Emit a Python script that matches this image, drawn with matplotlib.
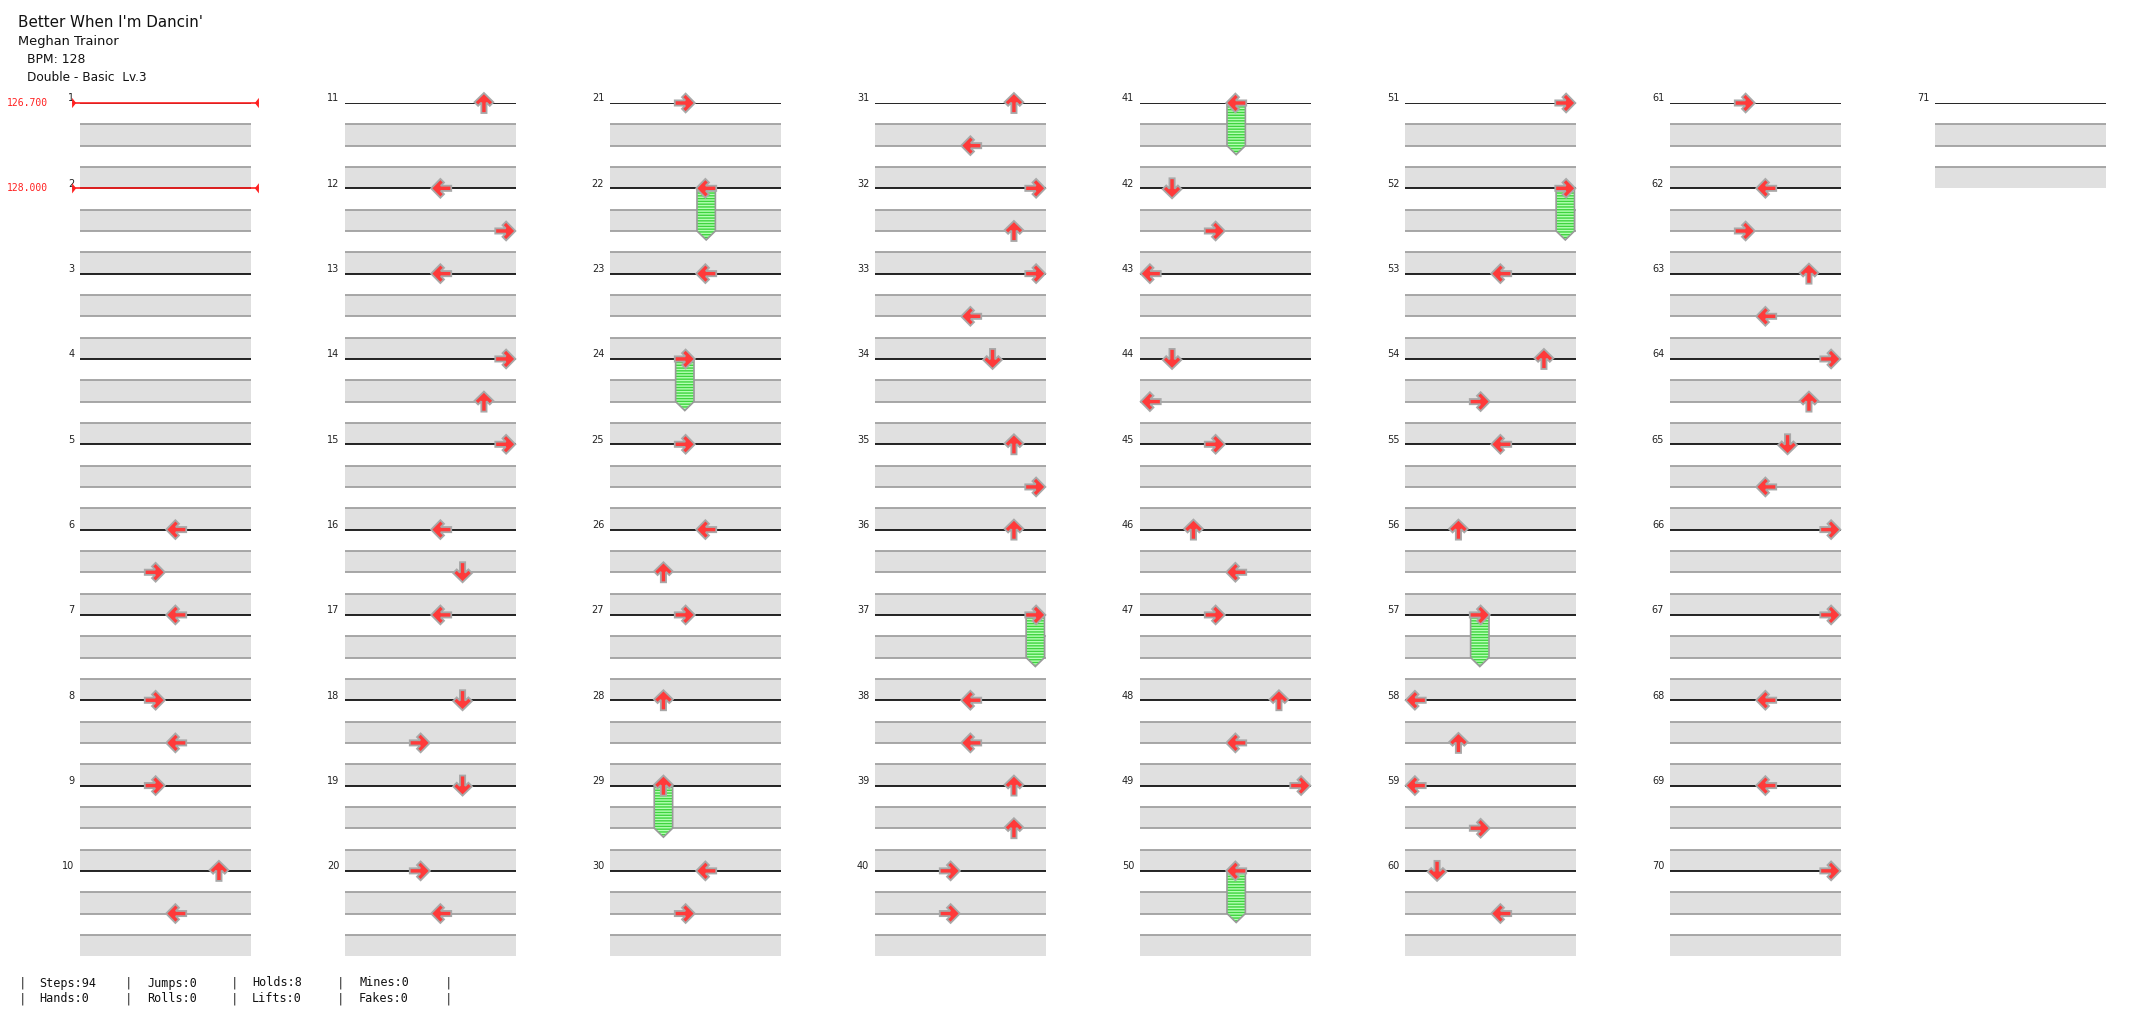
import matplotlib
matplotlib.use('Agg')
import matplotlib.pyplot as plt
from matplotlib.patches import Polygon, Rectangle
import numpy as np

# --- song info ---
song_title = "Better When I'm Dancin'"
song_artist = 'Meghan Trainor'
song_bpm = 'BPM: 128'
chart_name = 'Double - Basic  Lv.3'

n_measures = 71
per_column = 10

# BPM changes (measure, value)
bpm_measure = [1, 2]
bpm_value = ['126.700', '128.000']

# steps: measure, beat in measure, lane (L D U R | L D U R)
note_measure = [6, 6, 7, 8, 8, 9, 10, 10,
                11, 12, 12, 13, 14, 14, 15, 16, 16, 17, 18, 18, 19, 20, 20,
                21, 22, 23, 24, 25, 26, 26, 27, 28, 29, 30, 30,
                31, 31, 32, 32, 33, 33, 34, 35, 35, 36, 37, 38, 38, 39, 39, 40, 40,
                41, 42, 42, 43, 44, 44, 45, 46, 46, 47, 48, 48, 49, 50,
                51, 52, 53, 54, 54, 55, 56, 57, 58, 58, 59, 59, 60, 60,
                61, 62, 62, 63, 63, 64, 64, 65, 65, 66, 67, 68, 69, 70]
note_beat = [0, 2, 0, 0, 2, 0, 0, 2,
             0, 0, 2, 0, 0, 2, 0, 0, 2, 0, 0, 2, 0, 0, 2,
             0, 0, 0, 0, 0, 0, 2, 0, 0, 0, 0, 2,
             0, 2, 0, 2, 0, 2, 0, 0, 2, 0, 0, 0, 2, 0, 2, 0, 2,
             0, 0, 2, 0, 0, 2, 0, 0, 2, 0, 0, 2, 0, 0,
             0, 0, 0, 0, 2, 0, 0, 0, 0, 2, 0, 2, 0, 2,
             0, 0, 2, 0, 2, 0, 2, 0, 2, 0, 0, 0, 0, 0]
note_lane = [4, 3, 4, 3, 4, 3, 6, 4,
             6, 4, 7, 4, 7, 6, 7, 4, 5, 4, 5, 3, 5, 3, 4,
             3, 4, 4, 3, 3, 4, 2, 3, 2, 2, 4, 3,
             6, 4, 7, 6, 7, 4, 5, 6, 7, 6, 7, 4, 4, 6, 6, 3, 3,
             4, 1, 3, 0, 1, 0, 3, 2, 4, 3, 6, 4, 7, 4,
             7, 7, 4, 6, 3, 4, 2, 3, 0, 2, 0, 3, 1, 4,
             3, 4, 3, 6, 4, 7, 6, 5, 4, 7, 7, 4, 4, 7]

# freeze arrows: measure, lane, length in beats
hold_measure = [22, 24, 29, 37, 41, 50, 52, 57]
hold_lane = [4, 3, 2, 7, 4, 4, 7, 3]
hold_beats = [2, 2, 2, 2, 2, 2, 2, 2]

# stats footer
stat_top = ['Steps:94', 'Jumps:0', 'Holds:8', 'Mines:0']
stat_bottom = ['Hands:0', 'Rolls:0', 'Lifts:0', 'Fakes:0']

W, H = 2145, 1024
fig = plt.figure(figsize=(W / 100, H / 100), dpi=100)

col_x0 = 80
col_step = 265
col_w = 171
top_y = 103
beat_px = 21.33

arrow_red = '#ff3a3a'
arrow_edge = '#a8a8a8'
band_grey = '#e0e0e0'
line_grey = '#a0a0a0'

# up-pointing chevron arrow, unit size, y up
arrow_shape = np.array([(0, 0.5), (0.47, 0.04), (0.29, -0.14), (0.13, 0.02),
                        (0.13, -0.5), (-0.13, -0.5), (-0.13, 0.02),
                        (-0.29, -0.14), (-0.47, 0.04)])
lane_angle = {0: 90, 1: 180, 2: 0, 3: -90}


def arrow_points(cx, cy, lane, size=0.94):
    a = np.deg2rad(lane_angle[lane % 4])
    rot = np.array([[np.cos(a), -np.sin(a)], [np.sin(a), np.cos(a)]])
    pts = arrow_shape @ rot.T * size
    # y axis is inverted in the panels
    return np.column_stack([cx + pts[:, 0], cy - pts[:, 1]])


n_cols = int(np.ceil(n_measures / per_column))
axes = []
for c in range(n_cols):
    left = (col_x0 + c * col_step) / W
    bottom = 1 - (top_y + 40 * beat_px) / H
    ax = fig.add_axes([left, bottom, col_w / W, 40 * beat_px / H])
    ax.set_xlim(0, 8)
    ax.set_ylim(40, 0)
    ax.axis('off')
    axes.append(ax)

# measure grid
for m in range(1, n_measures + 1):
    c = (m - 1) // per_column
    row = (m - 1) % per_column
    ax = axes[c]
    y0 = row * 4
    for b in (1, 3):
        ax.add_patch(Rectangle((0, y0 + b), 8, 1, facecolor=band_grey,
                               edgecolor='none', zorder=1))
    ax.hlines([y0 + 1, y0 + 2, y0 + 3], 0, 8, colors=line_grey, lw=1.3, zorder=2)
    ax.hlines(y0, 0, 8, colors='#111111', lw=1.3, zorder=2)
    ax.text(-0.27, y0 - 0.08, str(m), ha='right', va='baseline',
            fontsize=7, color='#222222', clip_on=False, zorder=3)

# bpm markers
for m, v in zip(bpm_measure, bpm_value):
    c = (m - 1) // per_column
    ax = axes[c]
    y0 = ((m - 1) % per_column) * 4
    ax.hlines(y0, -0.37, 8.37, colors='#ff2020', lw=1.2, zorder=4, clip_on=False)
    ax.add_patch(Polygon([(-0.37, y0 - 0.24), (-0.37, y0 + 0.24), (-0.18, y0)],
                         closed=True, facecolor='#ff2020', edgecolor='none',
                         zorder=4, clip_on=False))
    ax.add_patch(Polygon([(8.37, y0 - 0.24), (8.37, y0 + 0.24), (8.18, y0)],
                         closed=True, facecolor='#ff2020', edgecolor='none',
                         zorder=4, clip_on=False))
    ax.text(-1.5, y0, v, ha='right', va='center', fontsize=7,
            family='DejaVu Sans Mono', color='#ff2020', clip_on=False)

# freeze bodies
for m, lane, length in zip(hold_measure, hold_lane, hold_beats):
    c = (m - 1) // per_column
    ax = axes[c]
    y0 = ((m - 1) % per_column) * 4
    cx = lane + 0.5
    w = 0.43
    body = [(cx - w, y0), (cx + w, y0), (cx + w, y0 + length),
            (cx, y0 + length + 0.42), (cx - w, y0 + length)]
    ax.add_patch(Polygon(body, closed=True, facecolor='#b4ffb4', edgecolor='#3ed43e',
                         hatch='------', lw=0, zorder=5, clip_on=False))
    ax.add_patch(Polygon(body, closed=True, facecolor='none', edgecolor='#9a9a9a',
                         lw=1.2, zorder=6, clip_on=False))

# steps
for m, b, lane in zip(note_measure, note_beat, note_lane):
    c = (m - 1) // per_column
    ax = axes[c]
    y = ((m - 1) % per_column) * 4 + b
    ax.add_patch(Polygon(arrow_points(lane + 0.5, y, lane), closed=True,
                         facecolor=arrow_red, edgecolor=arrow_edge, lw=1.3,
                         joinstyle='miter', zorder=7, clip_on=False))

# header
fig.text(18 / W, 1 - 27.3 / H, song_title, fontsize=10.9, color='#111111', va='baseline')
fig.text(18 / W, 1 - 45 / H, song_artist, fontsize=9.4, color='#111111', va='baseline')
fig.text(27 / W, 1 - 63 / H, song_bpm, fontsize=8.9, color='#111111', va='baseline')
fig.text(27 / W, 1 - 80.7 / H, chart_name, fontsize=8.7, color='#111111', va='baseline')

# footer
bar_x = [22, 128, 235, 341, 448]
label_x = [39, 147, 252, 359]
for yy, labels in ((983, stat_top), (999, stat_bottom)):
    for bx in bar_x:
        fig.text(bx / W, 1 - yy / H, '|', ha='center', va='center', fontsize=9,
                 family='DejaVu Sans Mono', color='#222222')
    for lx, s in zip(label_x, labels):
        fig.text(lx / W, 1 - yy / H, s, ha='left', va='center', fontsize=8.5,
                 family='DejaVu Sans Mono', color='#111111')

fig.savefig('out.png', dpi=100, facecolor='white')
